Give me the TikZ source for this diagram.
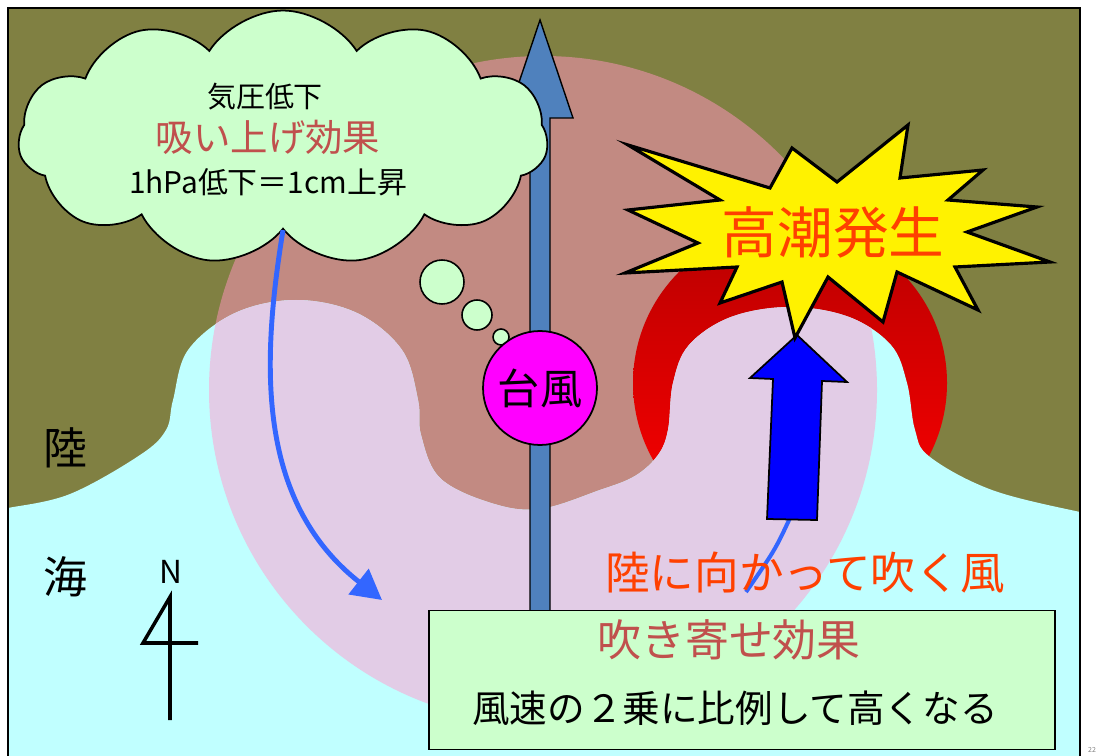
\documentclass[tikz,border=0pt]{standalone}
\usepackage{fontspec}
\setmainfont{Noto Sans CJK JP}
\usetikzlibrary{shapes.symbols,arrows.meta}

\definecolor{land}{RGB}{128,128,66}
\definecolor{sea}{RGB}{192,255,255}
\definecolor{landstorm}{RGB}{194,138,130}
\definecolor{seastorm}{RGB}{226,204,230}
\definecolor{paleg}{RGB}{204,255,204}
\definecolor{track}{RGB}{79,129,189}
\definecolor{eye}{RGB}{255,0,255}
\definecolor{windblue}{RGB}{51,102,255}
\definecolor{effectred}{RGB}{192,80,77}
\definecolor{alarm}{RGB}{255,64,0}
\definecolor{surge}{RGB}{255,0,0}
\definecolor{surgedark}{RGB}{185,0,0}

\newcommand{\fsz}[1]{\fontsize{#1}{#1}\selectfont}

% coastline, sea side closed below the frame
\def\coast{plot[smooth,tension=0.6] coordinates {(0,509) (8,508) (70,494) (140,455)
  (166,430) (173,400) (188,350) (235,313) (296,300) (357,313) (402,350) (418,400)
  (421,435) (440,478) (491,503) (540,509) (600,490) (635,476) (658,455) (668,430)
  (673,383) (689,345) (731,317) (790,307) (849,317) (891,345) (907,383) (915,430)
  (930,457) (992,490) (1080,512) (1104,515)} -- (1104,780) -- (0,780) -- cycle}

\tikzset{
  txt/.style={inner sep=0pt},
  bubble/.style={circle, draw=black, line width=0.9pt, fill=paleg, inner sep=0pt},
  cloudnode/.style={cloud, cloud puffs=11, cloud puff arc=115, cloud ignores aspect,
    draw=black, line width=1pt, fill=paleg, minimum width=10.6cm, minimum height=5.1cm},
  windarrow/.style={windblue, line width=2.8pt, -{Triangle[length=17pt,width=18pt]}}
}

\begin{document}
\begin{tikzpicture}[x=0.02cm,y=-0.02cm]
  \useasboundingbox (0,0) rectangle (1104,756);
  \begin{scope}
    \clip (8,8) rectangle (1080,780);
    \fill[land] (0,0) rectangle (1104,780);
    % land under the storm circle
    \begin{scope}
      \clip (543,390) circle (334);
      \fill[landstorm] (0,0) rectangle (1104,780);
    \end{scope}
    % flooded shore
    \shade[top color=surgedark, bottom color=surge] (790,383) circle (157);
    \fill[sea] \coast;
    \begin{scope}
      \clip (543,390) circle (334);
      \fill[seastorm] \coast;
    \end{scope}

    % typhoon track
    \draw[fill=track, line width=0.8pt] (530,612) -- (530,118) -- (507,118) -- (540,20)
      -- (573,118) -- (550,118) -- (550,612);
    \node[draw, line width=1pt, fill=paleg, minimum width=12.52cm, minimum height=2.78cm]
      at (742,680) (surgebox) {};
    \node[txt, text=effectred, font=\fsz{25}] at (729,640) (blowin) {吹き寄せ効果};
    \node[txt, font=\fsz{21.4}] at (735,708) (square) {風速の２乗に比例して高くなる};

    % low pressure cloud
    \node[cloudnode] at (283,138) (cloud) {};
    \node[txt, font=\fsz{16.5}] at (265,97) (pressure) {気圧低下};
    \node[txt, text=effectred, font=\fsz{21.3}] at (268,137) (suction) {吸い上げ効果};
    \node[txt, font=\fsz{17}] at (268,182) (ratio) {1hPa低下＝1cm上昇};
    \node[bubble, minimum size=0.88cm] at (442,282) (b1) {};
    \node[bubble, minimum size=0.6cm] at (477,315) (b2) {};
    \node[bubble, minimum size=0.32cm] at (501,337) (b3) {};
    \node[circle, draw=black, line width=1pt, fill=eye, minimum size=2.28cm,
      inner sep=0pt, font=\fsz{24}] at (540,388) (typhoon) {台風};

    \coordinate (windend) at (382,600);
    \draw[windarrow] (cloud.south) .. controls (262,360) and (255,500) .. (windend);

    % onshore wind
    \coordinate (tail) at (746,592);
    \draw[windblue, line width=2.3pt] (790,518) .. controls (775,550) .. (tail);
    \draw[fill=blue, line width=1pt] (767,519) -- (773,379) -- (750,378) -- (797,335)
      -- (847,382) -- (822,381) -- (817,520) -- cycle;
    \node[txt, text=alarm, font=\fsz{25.4}] at (805,573) (onshore) {陸に向かって吹く風};

    % storm surge burst
    \draw[fill=yellow, line width=1.8pt, line join=miter] (628,145) -- (770,188)
      -- (792,148) -- (837,182) -- (908,125) -- (900,178) -- (983,170) -- (948,200)
      -- (1037,207) -- (967,232) -- (1050,262) -- (955,267) -- (978,310) -- (897,272)
      -- (883,322) -- (828,277) -- (795,338) -- (782,282) -- (720,303) -- (737,267)
      -- (625,273) -- (698,243) -- (628,210) -- (720,200) -- cycle;
    \node[txt, text=alarm, font=\fsz{31.7}] at (833,232) (hightide) {高潮発生};

    \node[txt, font=\fsz{25}] at (65,448) (landlbl) {陸};
    \node[txt, font=\fsz{25}] at (65,577) (sealbl) {海};
    \node[txt, font=\fsz{18}] at (171,572) (north) {N};
    \draw[line width=2pt] (170,720) -- (170,597) -- (143,643) -- (198,643);
  \end{scope}
  \draw[line width=1.2pt] (8,8) rectangle (1080,780);
  \node[txt, text=gray, font=\fsz{4}] at (1092,750) (page) {22};
\end{tikzpicture}
\end{document}
